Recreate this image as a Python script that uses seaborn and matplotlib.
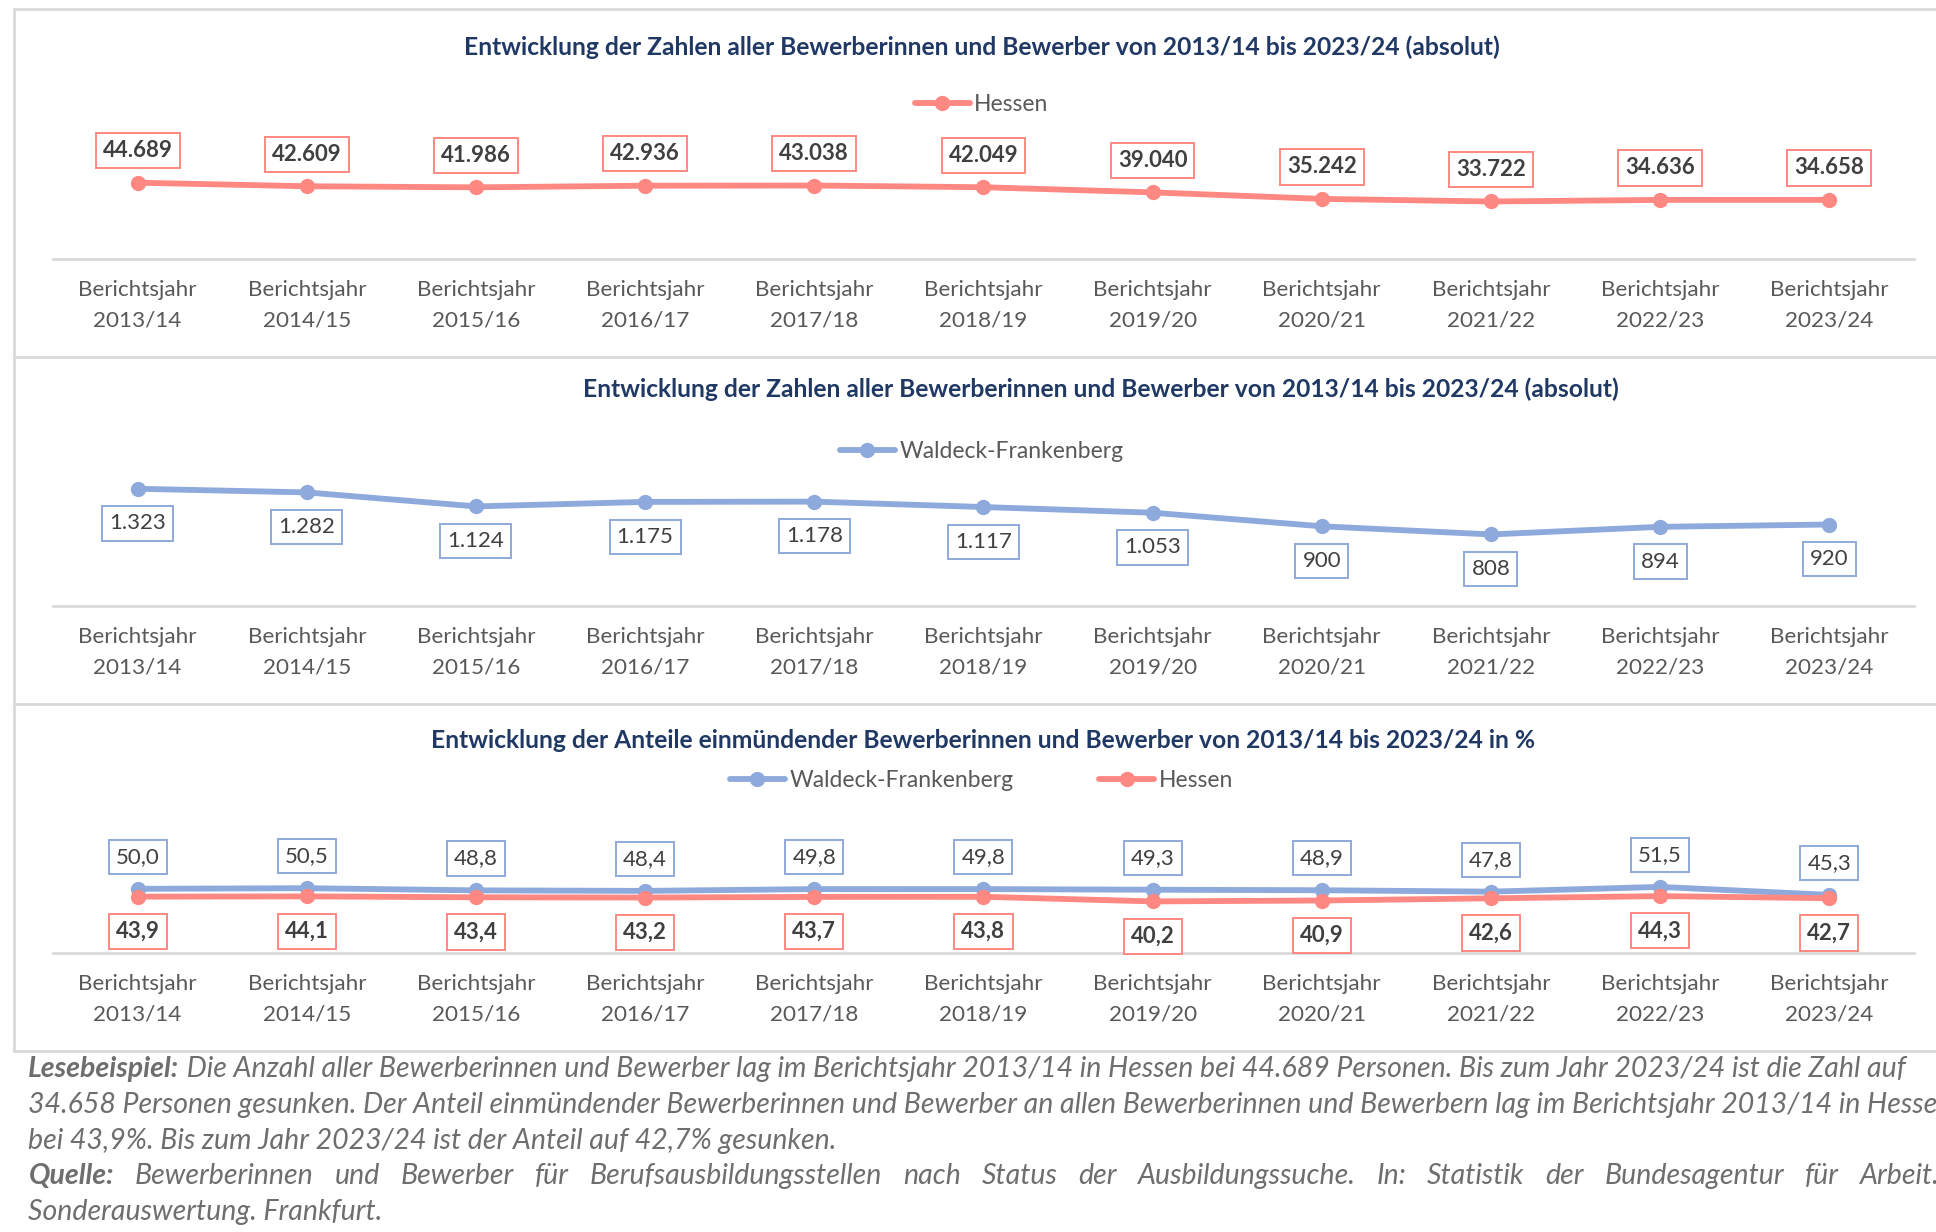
import pandas as pd
import matplotlib.pyplot as plt
import seaborn as sns

# data
jahre = ["2013/14", "2014/15", "2015/16", "2016/17", "2017/18", "2018/19",
         "2019/20", "2020/21", "2021/22", "2022/23", "2023/24"]
hessen_abs = [44689, 42609, 41986, 42936, 43038, 42049, 39040, 35242, 33722, 34636, 34658]
waldeck_abs = [1323, 1282, 1124, 1175, 1178, 1117, 1053, 900, 808, 894, 920]
waldeck_anteil = [50.0, 50.5, 48.8, 48.4, 49.8, 49.8, 49.3, 48.9, 47.8, 51.5, 45.3]
hessen_anteil = [43.9, 44.1, 43.4, 43.2, 43.7, 43.8, 40.2, 40.9, 42.6, 44.3, 42.7]

tick_labels = [f"Berichtsjahr\n{j}" for j in jahre]
titel_abs = "Entwicklung der Zahlen aller Bewerberinnen und Bewerber von 2013/14 bis 2023/24 (absolut)"
titel_anteil = "Entwicklung der Anteile einmündender Bewerberinnen und Bewerber von 2013/14 bis 2023/24 in %"

ROT = "#FF8882"
BLAU = "#8EA9DB"
NAVY = "#1F3864"
GRAU = "#595959"
LINIE = "#D9D9D9"

sns.set_style("white")
plt.rcParams["font.family"] = ["Lato", "DejaVu Sans"]

fig = plt.figure(figsize=(19.36, 12.32), dpi=100)

# reference was measured in a 1568 x 998 view
def fx(x):
    return x / 1568

def fy(y):
    return 1 - y / 998


def fmt_abs(v):
    return f"{v:,}".replace(",", ".")


def fmt_pct(v):
    return f"{v:.1f}".replace(".", ",")


def panel(top, bottom, ymax, serien, titel, titel_x, titel_y, leg_y):
    ax = fig.add_axes([fx(43), fy(bottom), fx(1550) - fx(43), fy(top) - fy(bottom)])
    rows = []
    for name, werte, *_ in serien:
        for i, v in enumerate(werte):
            rows.append({"x": i, "wert": v, "region": name})
    df = pd.DataFrame(rows)
    pal = {name: col for name, _, col, *_ in serien}
    sns.lineplot(data=df, x="x", y="wert", hue="region", palette=pal, marker="o",
                 markersize=11, markeredgewidth=0, linewidth=4.2, ax=ax, sort=False)
    for name, werte, col, offset, bold, fmt in serien:
        for i, v in enumerate(werte):
            ax.annotate(fmt(v), (i, v), xytext=(0, offset), textcoords="offset points",
                        ha="center", va="center", fontsize=16, color="#404040",
                        fontweight="bold" if bold else "normal",
                        bbox=dict(boxstyle="square,pad=0.32", fc="white", ec=col, lw=1.4))
    ax.set_xlim(-0.5, 10.5)
    ax.set_ylim(0, ymax)
    ax.set_xticks(range(len(jahre)))
    ax.set_xticklabels(tick_labels, fontsize=16.2, color=GRAU, linespacing=1.65)
    ax.set_yticks([])
    ax.set_xlabel("")
    ax.set_ylabel("")
    ax.tick_params(axis="x", length=0, pad=15)
    for s in ["top", "left", "right"]:
        ax.spines[s].set_visible(False)
    ax.spines["bottom"].set_color(LINIE)
    ax.spines["bottom"].set_linewidth(2)
    ax.patch.set_alpha(0)
    handles, labels = ax.get_legend_handles_labels()
    ax.legend(handles, labels, loc="center", bbox_to_anchor=(fx(795), fy(leg_y)),
              bbox_transform=fig.transFigure, frameon=False, ncol=len(labels),
              fontsize=16.5, handlelength=2.4, handletextpad=0.2, columnspacing=3.75,
              labelcolor=GRAU)
    fig.text(fx(titel_x), fy(titel_y), titel, ha="center", va="center",
             fontsize=17.7, fontweight="bold", color=NAVY)
    return ax


panel(110, 210, 72080,
      [("Hessen", hessen_abs, ROT, 23, True, fmt_abs)],
      titel_abs, 795, 38, 85)
panel(371, 491, 1670,
      [("Waldeck-Frankenberg", waldeck_abs, BLAU, -25, False, fmt_abs)],
      titel_abs, 892, 315, 366)
panel(652, 772, 115.4,
      [("Waldeck-Frankenberg", waldeck_anteil, BLAU, 23, False, fmt_pct),
       ("Hessen", hessen_anteil, ROT, -25, True, fmt_pct)],
      titel_anteil, 796, 600, 632)

# frame lines of the document table
for y in [7, 289, 570, 851]:
    fig.add_artist(plt.Line2D([fx(11), 1], [fy(y), fy(y)], color=LINIE, lw=2))
fig.add_artist(plt.Line2D([fx(11), fx(11)], [fy(7), fy(851)], color=LINIE, lw=2))

# footer
FOOT = "#6E6E6E"
fs = 20.5
b1 = fig.text(fx(23), fy(866), "Lesebeispiel:", ha="left", va="center", fontsize=fs,
              fontweight="bold", style="italic", color=FOOT)
plt.annotate(" Die Anzahl aller Bewerberinnen und Bewerber lag im Berichtsjahr 2013/14 in Hessen "
             "bei 44.689 Personen. Bis zum Jahr 2023/24 ist die Zahl auf",
             xy=(1, 0), xycoords=b1, ha="left", va="bottom", fontsize=fs,
             style="italic", color=FOOT, annotation_clip=False)
fig.text(fx(23), fy(895), "34.658 Personen gesunken. Der Anteil einmündender Bewerberinnen und "
         "Bewerber an allen Bewerberinnen und Bewerbern lag im Berichtsjahr 2013/14 in Hessen",
         ha="left", va="center", fontsize=fs, style="italic", color=FOOT)
fig.text(fx(23), fy(924), "bei 43,9%. Bis zum Jahr 2023/24 ist der Anteil auf 42,7% gesunken.",
         ha="left", va="center", fontsize=fs, style="italic", color=FOOT)
fig.text(fx(23), fy(982), "Sonderauswertung. Frankfurt.",
         ha="left", va="center", fontsize=fs, style="italic", color=FOOT)

# justified "Quelle" line
q = fig.text(fx(23), fy(953), "Quelle:", ha="left", va="center", fontsize=fs,
             fontweight="bold", style="italic", color=FOOT)
woerter = ("Bewerberinnen und Bewerber für Berufsausbildungsstellen nach Status der "
           "Ausbildungssuche. In: Statistik der Bundesagentur für Arbeit.").split()
fig.canvas.draw()
r = fig.canvas.get_renderer()
qb = q.get_window_extent(r)
start = qb.x1 + 17 * 1936 / 1568
ende = 1571 * 1936 / 1568
tmp = [fig.text(0, 0, w, fontsize=fs, style="italic") for w in woerter]
breiten = [t.get_window_extent(r).width for t in tmp]
for t in tmp:
    t.remove()
gap = (ende - start - sum(breiten)) / (len(woerter) - 1)
x = start
for w, b in zip(woerter, breiten):
    fig.text(x / 1936, fy(953), w, ha="left", va="center", fontsize=fs,
             style="italic", color=FOOT)
    x += b + gap

fig.savefig("out.png", dpi=100)
